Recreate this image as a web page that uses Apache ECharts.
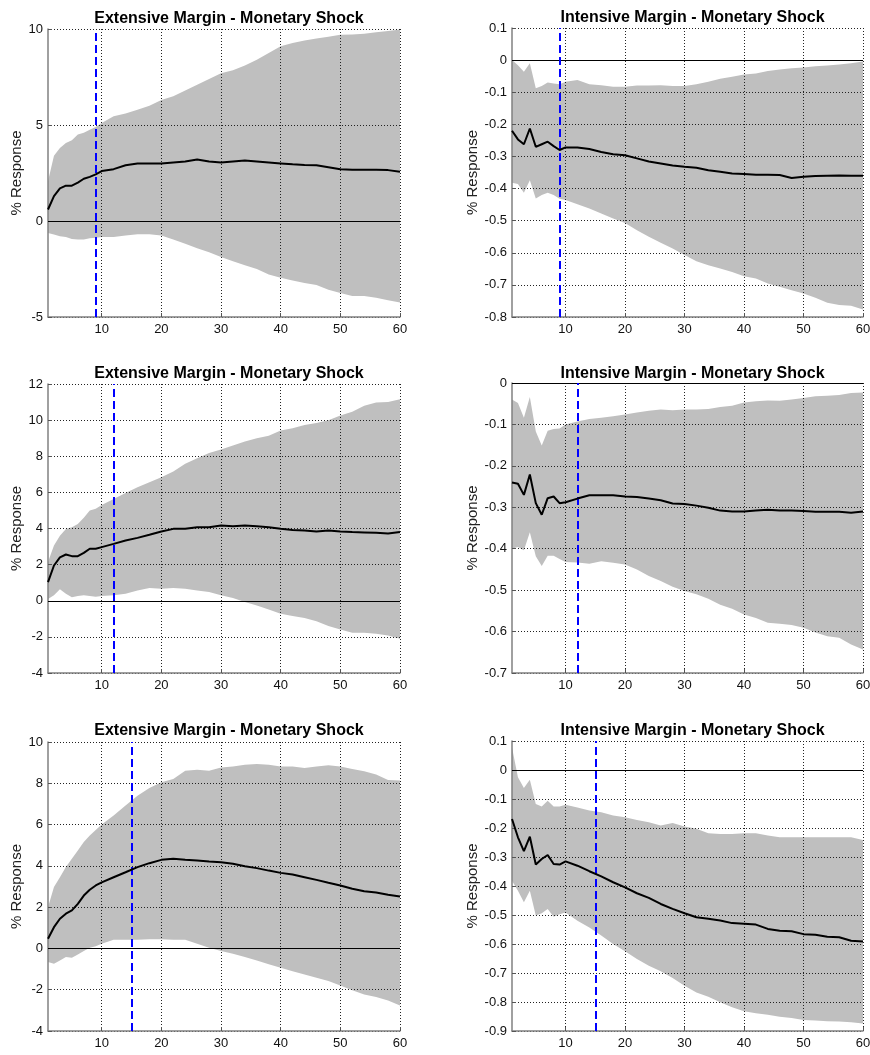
<!DOCTYPE html>
<html>
<head>
<meta charset="utf-8">
<script src="https://cdn.jsdelivr.net/npm/echarts@6/dist/echarts.min.js"></script>
<style>
  html, body { margin: 0; padding: 0; background: #ffffff; }
  #chart { width: 870px; height: 1055px; }
</style>
</head>
<body>
<div id="chart"></div>
<script>
// ---------------- data ----------------
const periods = [1,2,3,4,5,6,7,8,9,10,12,14,16,18,20,22,24,26,28,30,32,34,36,38,40,42,44,46,48,50,52,54,56,58,60];
const xTicks = [10,20,30,40,50,60];

const titles = [
  'Extensive Margin - Monetary Shock', 'Intensive Margin - Monetary Shock',
  'Extensive Margin - Monetary Shock', 'Intensive Margin - Monetary Shock',
  'Extensive Margin - Monetary Shock', 'Intensive Margin - Monetary Shock'
];
const yAxisName = '% Response';
const markerPeriod = [9, 9, 12, 12, 15, 15];
const yMin  = [-5, -0.8, -4, -0.7, -4, -0.9];
const yMax  = [10, 0.1, 12, 0, 10, 0.1];
const yStep = [5, 0.1, 2, 0.1, 2, 0.1];

// Panel 1: Extensive (top)
const p1Mean  = [0.6,1.3,1.7,1.84,1.84,2.0,2.2,2.3,2.43,2.6,2.7,2.9,3.0,3.0,3.0,3.05,3.1,3.2,3.1,3.05,3.1,3.15,3.1,3.05,3.0,2.95,2.92,2.9,2.8,2.7,2.67,2.67,2.67,2.65,2.57];
const p1Upper = [2.07,3.4,3.8,4.06,4.2,4.5,4.6,4.75,4.9,5.1,5.45,5.6,5.8,6.0,6.3,6.5,6.8,7.1,7.4,7.7,7.85,8.1,8.4,8.75,9.1,9.27,9.4,9.5,9.6,9.7,9.72,9.75,9.83,9.9,9.97];
const p1Lower = [-0.62,-0.7,-0.8,-0.83,-0.94,-0.97,-0.97,-0.9,-0.87,-0.83,-0.83,-0.76,-0.69,-0.69,-0.76,-0.97,-1.18,-1.42,-1.63,-1.88,-2.1,-2.3,-2.5,-2.78,-2.95,-3.1,-3.23,-3.33,-3.58,-3.75,-3.9,-3.9,-4.0,-4.13,-4.24];

// Panel 2: Intensive (top)
const p2Mean  = [-0.22,-0.247,-0.262,-0.213,-0.27,-0.262,-0.254,-0.268,-0.28,-0.272,-0.272,-0.277,-0.286,-0.293,-0.296,-0.306,-0.316,-0.322,-0.328,-0.332,-0.335,-0.343,-0.348,-0.353,-0.355,-0.357,-0.357,-0.358,-0.367,-0.363,-0.361,-0.36,-0.359,-0.36,-0.36];
const p2Upper = [0.0,-0.016,-0.036,-0.01,-0.088,-0.081,-0.07,-0.073,-0.075,-0.067,-0.062,-0.075,-0.078,-0.083,-0.083,-0.079,-0.079,-0.078,-0.081,-0.081,-0.075,-0.067,-0.058,-0.052,-0.045,-0.042,-0.034,-0.029,-0.025,-0.023,-0.019,-0.017,-0.014,-0.01,-0.004];
const p2Lower = [-0.382,-0.386,-0.413,-0.374,-0.431,-0.42,-0.413,-0.42,-0.432,-0.436,-0.449,-0.462,-0.478,-0.493,-0.507,-0.53,-0.55,-0.569,-0.587,-0.607,-0.626,-0.639,-0.649,-0.66,-0.673,-0.68,-0.696,-0.706,-0.717,-0.727,-0.74,-0.756,-0.763,-0.765,-0.777];

// Panel 3: Extensive (middle)
const p3Mean  = [1.03,1.95,2.4,2.56,2.47,2.47,2.65,2.88,2.88,2.97,3.15,3.34,3.48,3.65,3.83,3.98,3.98,4.07,4.07,4.17,4.13,4.17,4.13,4.07,3.98,3.92,3.89,3.83,3.89,3.83,3.8,3.78,3.76,3.72,3.8];
const p3Upper = [2.14,3.06,3.6,3.97,4.07,4.25,4.6,5.0,5.09,5.3,5.64,5.97,6.29,6.56,6.84,7.15,7.58,7.89,8.18,8.37,8.59,8.81,9.0,9.14,9.42,9.55,9.73,9.84,10.0,10.25,10.47,10.8,10.97,11.0,11.15];
const p3Lower = [0.1,0.3,0.63,0.39,0.2,0.26,0.3,0.26,0.22,0.26,0.3,0.39,0.57,0.7,0.66,0.7,0.66,0.57,0.48,0.3,0.15,-0.07,-0.26,-0.48,-0.72,-0.85,-0.96,-1.14,-1.4,-1.59,-1.77,-1.77,-1.83,-1.92,-2.1];

// Panel 4: Intensive (middle)
const p4Mean  = [-0.24,-0.243,-0.27,-0.221,-0.29,-0.318,-0.278,-0.274,-0.29,-0.288,-0.279,-0.271,-0.271,-0.271,-0.274,-0.275,-0.279,-0.283,-0.291,-0.292,-0.296,-0.301,-0.308,-0.31,-0.31,-0.308,-0.306,-0.308,-0.308,-0.309,-0.311,-0.311,-0.311,-0.313,-0.31];
const p4Upper = [-0.04,-0.048,-0.084,-0.034,-0.117,-0.151,-0.115,-0.111,-0.11,-0.1,-0.093,-0.087,-0.084,-0.08,-0.076,-0.071,-0.067,-0.064,-0.066,-0.064,-0.064,-0.063,-0.058,-0.055,-0.047,-0.044,-0.042,-0.043,-0.04,-0.036,-0.032,-0.031,-0.029,-0.024,-0.023];
const p4Lower = [-0.4,-0.396,-0.404,-0.36,-0.418,-0.442,-0.417,-0.417,-0.425,-0.432,-0.433,-0.436,-0.43,-0.434,-0.438,-0.45,-0.466,-0.478,-0.492,-0.502,-0.51,-0.521,-0.535,-0.545,-0.559,-0.567,-0.579,-0.581,-0.584,-0.591,-0.602,-0.611,-0.615,-0.631,-0.643];

// Panel 5: Extensive (bottom)
const p5Mean  = [0.47,1.03,1.44,1.68,1.84,2.16,2.56,2.84,3.05,3.2,3.45,3.69,3.94,4.13,4.29,4.34,4.29,4.26,4.21,4.18,4.1,3.98,3.89,3.77,3.66,3.58,3.45,3.32,3.18,3.05,2.89,2.77,2.71,2.6,2.52];
const p5Upper = [2.0,2.97,3.45,3.94,4.34,4.74,5.15,5.47,5.74,6.0,6.44,6.92,7.4,7.77,8.05,8.21,8.61,8.65,8.61,8.77,8.81,8.9,8.94,8.9,8.81,8.81,8.74,8.81,8.87,8.81,8.69,8.58,8.42,8.16,8.13];
const p5Lower = [-0.66,-0.74,-0.58,-0.42,-0.45,-0.29,-0.13,0.03,0.1,0.23,0.42,0.42,0.42,0.45,0.45,0.42,0.42,0.23,0.03,-0.13,-0.26,-0.42,-0.58,-0.77,-0.94,-1.1,-1.26,-1.42,-1.58,-1.79,-2.03,-2.23,-2.35,-2.52,-2.76];

// Panel 6: Intensive (bottom)
const p6Mean  = [-0.169,-0.232,-0.28,-0.23,-0.326,-0.307,-0.293,-0.324,-0.326,-0.315,-0.33,-0.349,-0.367,-0.387,-0.405,-0.425,-0.441,-0.462,-0.479,-0.494,-0.508,-0.513,-0.519,-0.528,-0.53,-0.533,-0.548,-0.554,-0.556,-0.566,-0.568,-0.575,-0.577,-0.589,-0.591];
const p6Upper = [0.078,-0.025,-0.062,-0.034,-0.117,-0.126,-0.106,-0.126,-0.126,-0.12,-0.129,-0.14,-0.146,-0.157,-0.163,-0.172,-0.18,-0.191,-0.183,-0.195,-0.203,-0.218,-0.221,-0.221,-0.218,-0.218,-0.226,-0.232,-0.232,-0.232,-0.232,-0.232,-0.232,-0.232,-0.241];
const p6Lower = [-0.382,-0.416,-0.456,-0.416,-0.502,-0.494,-0.479,-0.506,-0.497,-0.491,-0.52,-0.543,-0.571,-0.6,-0.625,-0.652,-0.675,-0.694,-0.717,-0.744,-0.767,-0.782,-0.801,-0.818,-0.832,-0.839,-0.844,-0.851,-0.855,-0.862,-0.864,-0.866,-0.867,-0.87,-0.874];

const panels = [
  { mean: p1Mean, upper: p1Upper, lower: p1Lower },
  { mean: p2Mean, upper: p2Upper, lower: p2Lower },
  { mean: p3Mean, upper: p3Upper, lower: p3Lower },
  { mean: p4Mean, upper: p4Upper, lower: p4Lower },
  { mean: p5Mean, upper: p5Upper, lower: p5Lower },
  { mean: p6Mean, upper: p6Upper, lower: p6Lower }
];

// ---------------- layout / style ----------------
const FONT = "'Liberation Sans', Arial, Helvetica, sans-serif";
const gridBoxes = [
  { left: 48,  top: 29,  width: 352, height: 288 },
  { left: 512, top: 28,  width: 351, height: 289 },
  { left: 48,  top: 384, width: 352, height: 289 },
  { left: 512, top: 383, width: 351, height: 290 },
  { left: 48,  top: 742, width: 352, height: 289 },
  { left: 512, top: 741, width: 351, height: 290 }
];
const nameGaps = [22, 32, 22, 32, 22, 32];
const titleTops = [6, 5, 361, 361, 718, 718];

const chart = echarts.init(document.getElementById('chart'), null, { renderer: 'canvas' });

const grid = [], xAxis = [], yAxis = [], series = [], title = [];
const gridLine = { show: true, lineStyle: { type: [1, 2], color: '#222', width: 1 } };

panels.forEach((p, i) => {
  const g = gridBoxes[i];
  grid.push(Object.assign({ outerBoundsMode: 'none', containLabel: false }, g));
  title.push({
    text: titles[i],
    left: g.left + g.width / 2,
    top: titleTops[i],
    textAlign: 'center',
    textStyle: { fontFamily: FONT, fontSize: 16, fontWeight: 'bold', color: '#000' }
  });
  xAxis.push({
    type: 'value', gridIndex: i, min: 1, max: 60,
    axisLine: { show: true, onZero: false, lineStyle: { color: '#808080', width: 1.5 } },
    axisTick: { show: true, inside: true, length: 4, customValues: xTicks, lineStyle: { color: '#555' } },
    axisLabel: { customValues: xTicks, color: '#111', fontSize: 13, fontFamily: FONT, margin: 6 },
    splitLine: gridLine
  });
  yAxis.push({
    type: 'value', gridIndex: i, min: yMin[i], max: yMax[i], interval: yStep[i],
    name: yAxisName, nameLocation: 'middle', nameGap: nameGaps[i], nameRotate: 90,
    nameTextStyle: { fontFamily: FONT, fontSize: 15, color: '#222' },
    axisLine: { show: true, onZero: false, lineStyle: { color: '#808080', width: 1.5 } },
    axisTick: { show: true, inside: true, length: 4, lineStyle: { color: '#555' } },
    axisLabel: { color: '#111', fontSize: 13, fontFamily: FONT, margin: 5 },
    splitLine: gridLine
  });

  const lo = p.lower, hi = p.upper;
  series.push({
    type: 'custom', xAxisIndex: i, yAxisIndex: i, z: -1, silent: true, clip: true,
    data: periods.map((x, k) => [x, lo[k], hi[k]]),
    encode: { x: 0, y: [1, 2] },
    renderItem: function (params, api) {
      if (params.dataIndex !== 0) return null;
      const pts = [];
      for (let k = 0; k < periods.length; k++) pts.push(api.coord([periods[k], hi[k]]));
      for (let k = periods.length - 1; k >= 0; k--) pts.push(api.coord([periods[k], lo[k]]));
      return { type: 'polygon', shape: { points: pts }, style: { fill: '#bfbfbf', stroke: null } };
    }
  });
  series.push({
    type: 'line', xAxisIndex: i, yAxisIndex: i, z: 5, silent: true,
    showSymbol: false, symbol: 'none',
    data: periods.map((x, k) => [x, p.mean[k]]),
    lineStyle: { color: '#000', width: 2 },
    markLine: {
      silent: true, symbol: 'none', label: { show: false }, animation: false,
      data: [
        { yAxis: 0, lineStyle: { color: '#000', width: 1, type: 'solid' } },
        [
          { coord: [markerPeriod[i], yMin[i]], lineStyle: { color: '#0000ff', width: 2, type: [8, 4] } },
          { coord: [markerPeriod[i], yMax[i]] }
        ]
      ]
    }
  });
});

chart.setOption({
  animation: false,
  backgroundColor: '#ffffff',
  title: title,
  grid: grid,
  xAxis: xAxis,
  yAxis: yAxis,
  series: series
});
</script>
</body>
</html>
